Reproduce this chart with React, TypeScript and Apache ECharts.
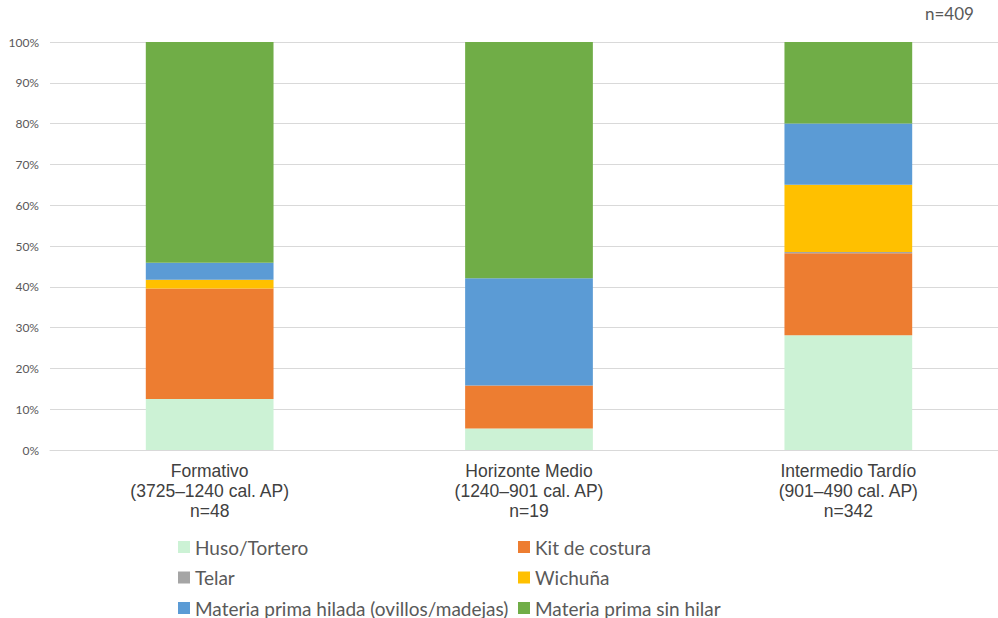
import React, { useEffect, useRef } from "react";
import * as echarts from "echarts";

const categories = [
  "Formativo\n(3725–1240 cal. AP)\nn=48",
  "Horizonte Medio\n(1240–901 cal. AP)\nn=19",
  "Intermedio Tardío\n(901–490 cal. AP)\nn=342",
];
const seriesNames = [
  "Huso/Tortero",
  "Kit de costura",
  "Telar",
  "Wichuña",
  "Materia prima hilada (ovillos/madejas)",
  "Materia prima sin hilar",
];
const husoTortero = [12.5, 5.3, 28.1];
const kitCostura = [27.1, 10.5, 20.1];
const telar = [0, 0, 0.3];
const wichuna = [2.1, 0, 16.5];
const materiaHilada = [4.2, 26.3, 15.0];
const materiaSinHilar = [54.1, 57.9, 20.0];
const seriesData = [husoTortero, kitCostura, telar, wichuna, materiaHilada, materiaSinHilar];
const colors = ["#CCF2D5", "#ED7D31", "#A5A5A5", "#FFC000", "#5B9BD5", "#70AD47"];
const yTicks = { min: 0, max: 100, interval: 10 };
const totalLabel = "n=409";

export default function App() {
  const ref = useRef<HTMLDivElement>(null);
  useEffect(() => {
    if (!ref.current) return;
    const chart = echarts.init(ref.current, null, { renderer: "svg" });
    const legendText = { color: "#595959", fontSize: 19, fontFamily: "Lato", lineHeight: 20 };
    const legendCommon = {
      top: 537,
      height: 100,
      padding: 0,
      orient: "vertical",
      icon: "rect",
      itemWidth: 12,
      itemHeight: 12,
      itemGap: 10.5,
      textStyle: legendText,
    };
    chart.setOption({
      animation: false,
      color: colors,
      graphic: [
        {
          type: "text",
          left: 925,
          top: 5,
          style: { text: totalLabel, fill: "#595959", fontSize: 17, fontFamily: "Lato" },
        },
      ],
      legend: [
        { ...legendCommon, left: 178, data: [seriesNames[0], seriesNames[2], seriesNames[4]] },
        { ...legendCommon, left: 518, data: [seriesNames[1], seriesNames[3], seriesNames[5]] },
      ],
      grid: { left: 50, top: 42, width: 958, height: 408, containLabel: false },
      xAxis: {
        type: "category",
        data: categories,
        axisLine: { lineStyle: { color: "#D9D9D9" } },
        axisTick: { show: false },
        axisLabel: {
          color: "#404040",
          fontSize: 17.5,
          lineHeight: 20,
          fontFamily: "Liberation Sans",
          margin: 11,
          interval: 0,
        },
      },
      yAxis: {
        type: "value",
        min: yTicks.min,
        max: yTicks.max,
        interval: yTicks.interval,
        axisLine: { show: false },
        axisTick: { show: false },
        splitLine: { lineStyle: { color: "#D9D9D9" } },
        axisLabel: {
          formatter: "{value}%",
          color: "#595959",
          fontSize: 12,
          fontFamily: "Lato",
          margin: 11,
        },
      },
      series: seriesNames.map((name, i) => ({
        name,
        type: "bar",
        stack: "total",
        barWidth: "40%",
        data: seriesData[i],
        itemStyle: { color: colors[i] },
      })),
    });
    return () => chart.dispose();
  }, []);
  return (
    <div style={{ position: "fixed", left: 0, top: 0, width: 998, height: 618, overflow: "hidden", background: "#fff" }}>
      <div ref={ref} style={{ width: 1010, height: 618 }} />
    </div>
  );
}
